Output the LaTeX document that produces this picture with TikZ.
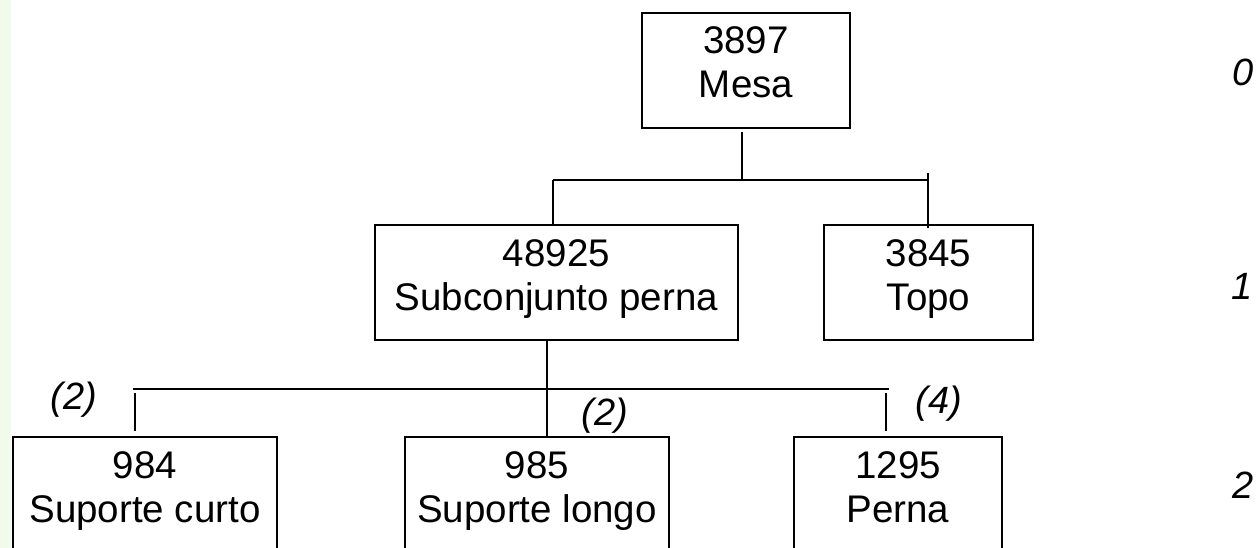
\documentclass[tikz,border=0pt]{standalone}
\usepackage{fontspec}
\setmainfont{Liberation Sans}
\usetikzlibrary{calc}
\definecolor{stripgreen}{RGB}{242,251,233}
\tikzset{
  partbox/.style={draw, line width=2pt, inner sep=0pt, anchor=north west, minimum height=115pt},
  partline/.style={anchor=base, inner sep=0pt, font=\fontsize{38.5}{44}\selectfont},
  qty/.style={inner sep=0pt, font=\fontsize{38}{44}\selectfont\itshape},
  wire/.style={line width=2pt}
}
\begin{document}
\begin{tikzpicture}[x=1pt,y=-1pt]
  \useasboundingbox (0,0) rectangle (1257,548);
  \clip (0,0) rectangle (1257,548);
  \fill[white] (0,0) rectangle (1257,548);
  \fill[stripgreen] (0,0) rectangle (11,548);

  % boxes of the product structure
  \node[partbox, minimum width=208pt] (mesa)  at (641,12)  {};
  \node[partbox, minimum width=363pt] (sub)   at (374,224) {};
  \node[partbox, minimum width=209pt] (topo)  at (823,224) {};
  \node[partbox, minimum width=264pt] (curto) at (12,436)  {};
  \node[partbox, minimum width=264pt] (longo) at (404,436) {};
  \node[partbox, minimum width=208pt] (perna) at (793,436) {};

  % part numbers and names
  \node[partline] (mesa-n)  at ($(mesa.north)+(0,42)$)  {3897};
  \node[partline] (mesa-d)  at ($(mesa.north)+(0,86)$)  {Mesa};
  \node[partline] (sub-n)   at ($(sub.north)+(0,42)$)   {48925};
  \node[partline] (sub-d)   at ($(sub.north)+(0,86)$)   {Subconjunto perna};
  \node[partline] (topo-n)  at ($(topo.north)+(0,42)$)  {3845};
  \node[partline] (topo-d)  at ($(topo.north)+(0,86)$)  {Topo};
  \node[partline] (curto-n) at ($(curto.north)+(0,42)$) {984};
  \node[partline] (curto-d) at ($(curto.north)+(0,86)$) {Suporte curto};
  \node[partline] (longo-n) at ($(longo.north)+(0,42)$) {985};
  \node[partline] (longo-d) at ($(longo.north)+(0,86)$) {Suporte longo};
  \node[partline] (perna-n) at ($(perna.north)+(0,42)$) {1295};
  \node[partline] (perna-d) at ($(perna.north)+(0,86)$) {Perna};

  % level 0 -> level 1
  \coordinate (stemA) at (742,132);
  \coordinate (busA-l) at (553,180);
  \coordinate (busA-r) at (928,180);
  \draw[wire] (stemA) -- (stemA |- busA-l);
  \draw[wire] (busA-l) -- (busA-r);
  \draw[wire] (busA-l) -- (busA-l |- sub.north);
  \draw[wire] ($(busA-r)+(0,-7)$) -- ($(busA-r |- topo.north)+(0,4)$);

  % level 1 -> level 2
  \coordinate (stemB) at (547,339);
  \coordinate (busB-l) at (133,389);
  \coordinate (busB-r) at (889,389);
  \coordinate (dropL) at (135,393);
  \coordinate (dropR) at (886,393);
  \draw[wire] (busB-l) -- (busB-r);
  \draw[wire] (stemB) -- (stemB |- longo.north);
  \draw[wire] (dropL) -- ($(dropL |- curto.north)+(0,-5)$);
  \draw[wire] (dropR) -- ($(dropR |- perna.north)+(0,-5)$);

  % quantities
  \node[qty] (q-curto) at (74,400)  {(2)};
  \node[qty] (q-longo) at (605,416) {(2)};
  \node[qty] (q-perna) at (939,404) {(4)};

  % structure levels
  \node[qty] (lvl0) at (1243,72)  {0};
  \node[qty] (lvl1) at (1242,286) {1};
  \node[qty] (lvl2) at (1243,485) {2};
\end{tikzpicture}
\end{document}
